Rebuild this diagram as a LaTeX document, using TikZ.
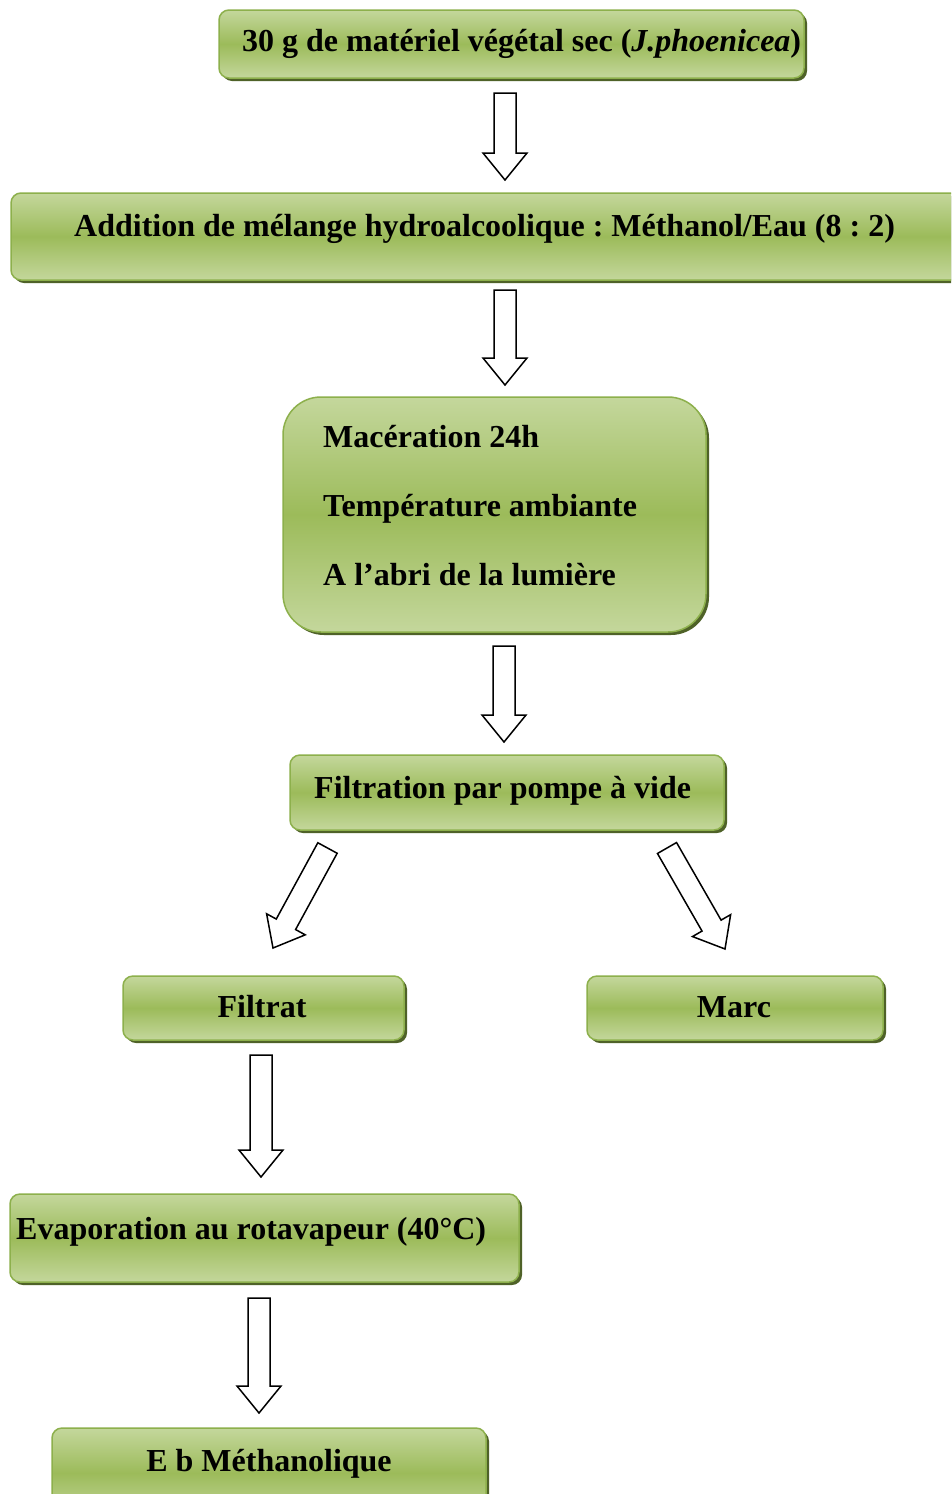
\documentclass[tikz,border=0pt]{standalone}
\usepackage{fontspec}
\setmainfont{Liberation Serif}
\usetikzlibrary{calc,shadows}
\frenchspacing
\definecolor{gLight}{HTML}{C4D79C}
\definecolor{gMid}{HTML}{9CBB5A}
\definecolor{gBorder}{HTML}{8DB04C}
\definecolor{gShadow}{HTML}{4F6228}
\tikzset{
  box/.style={draw=gBorder, line width=1.5pt, rounded corners=10pt, inner sep=0pt,
    top color=gLight, bottom color=gLight, middle color=gMid,
    drop shadow={shadow xshift=3pt, shadow yshift=-3pt, fill=gShadow, opacity=1}},
  bigbox/.style={box, rounded corners=38pt},
  lbl/.style={inner sep=0pt, font=\bfseries\fontsize{32}{38}\selectfont},
  barrow/.style={draw=black, line width=1.5pt, fill=white, line join=miter}
}
\newcommand\blockarrow[2]{%
  \coordinate (hb) at ($(#2)!27pt!(#1)$);
  \draw[barrow] ($(#1)!11pt!90:(#2)$) -- ($(hb)!11pt!90:(#2)$) -- ($(hb)!22pt!90:(#2)$)
    -- (#2) -- ($(hb)!22pt!-90:(#2)$) -- ($(hb)!11pt!-90:(#2)$) -- ($(#1)!11pt!-90:(#2)$) -- cycle;}
\begin{document}
\begin{tikzpicture}[x=1pt,y=-1pt]
\useasboundingbox (0,0) rectangle (951,1494);
\clip (0,0) rectangle (951,1494);
\fill[white] (0,0) rectangle (951,1494);
% boxes
\node[box, minimum width=585pt, minimum height=68pt] (b1) at (511.5,44) {};
\node[lbl, anchor=base west] (t1) at (242,51) {30 g de matériel végétal sec (\textit{J.phoenicea})};
\node[box, minimum width=950pt, minimum height=87pt] (b2) at (486,236.5) {};
\node[lbl, anchor=base west] (t2) at (74,236) {Addition de mélange hydroalcoolique : Méthanol/Eau (8 : 2)};
\node[bigbox, minimum width=423pt, minimum height=235pt] (b3) at (494.5,514.5) {};
\node[lbl, anchor=base west] (t3a) at (323,447) {Macération 24h};
\node[lbl, anchor=base west] (t3b) at (323,516) {Température ambiante};
\node[lbl, anchor=base west] (t3c) at (323,585) {A l’abri de la lumière};
\node[box, minimum width=434pt, minimum height=75pt] (b4) at (507,792.5) {};
\node[lbl, anchor=base west] (t4) at (314,798) {Filtration par pompe à vide};
\node[box, minimum width=281pt, minimum height=64pt] (b5) at (263.5,1008) {};
\node[lbl, anchor=base] (t5) at (262,1017) {Filtrat};
\node[box, minimum width=296pt, minimum height=64pt] (b6) at (735,1008) {};
\node[lbl, anchor=base] (t6) at (734,1017) {Marc};
\node[box, minimum width=509pt, minimum height=88pt] (b7) at (264.5,1238) {};
\node[lbl, anchor=base west] (t7) at (16,1239) {Evaporation au rotavapeur (40°C)};
\node[box, minimum width=434pt, minimum height=90pt] (b8) at (269,1473) {};
\node[lbl, anchor=base] (t8) at (269,1471) {E b Méthanolique};
% arrows
\coordinate (a1s) at (505,93);  \coordinate (a1e) at (505,180);
\coordinate (a2s) at (505,290); \coordinate (a2e) at (505,385);
\coordinate (a3s) at (504,646); \coordinate (a3e) at (504,742);
\coordinate (a4s) at (327.5,848); \coordinate (a4e) at (273,948);
\coordinate (a5s) at (667,848); \coordinate (a5e) at (725,949);
\coordinate (a6s) at (261,1055); \coordinate (a6e) at (261,1177);
\coordinate (a7s) at (259,1298); \coordinate (a7e) at (259,1413);
\blockarrow{a1s}{a1e}
\blockarrow{a2s}{a2e}
\blockarrow{a3s}{a3e}
\blockarrow{a4s}{a4e}
\blockarrow{a5s}{a5e}
\blockarrow{a6s}{a6e}
\blockarrow{a7s}{a7e}
\end{tikzpicture}
\end{document}
